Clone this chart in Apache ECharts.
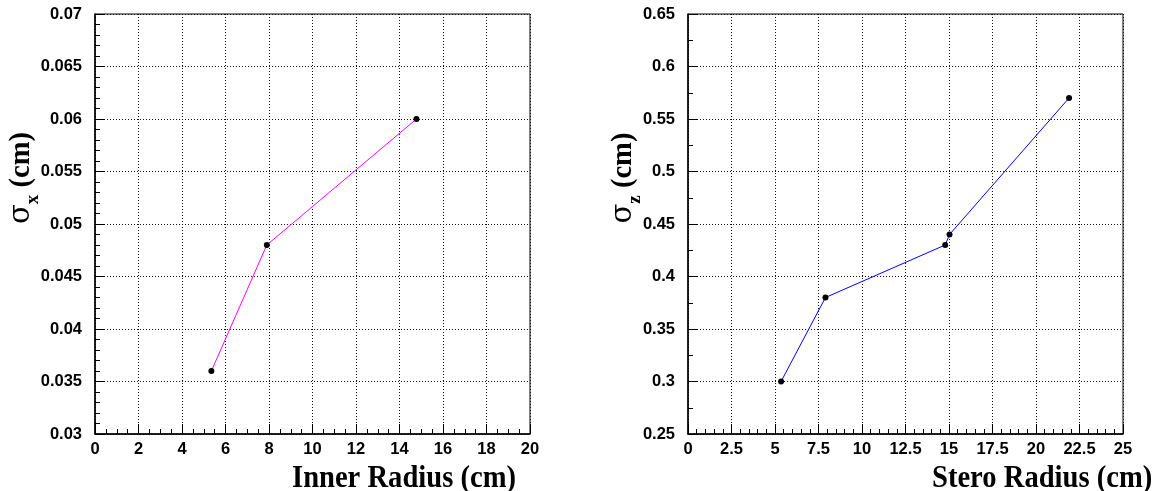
<!DOCTYPE html>
<html><head><meta charset="utf-8">
<script src="https://cdn.jsdelivr.net/npm/echarts@6/dist/echarts.min.js"></script>
<style>html,body{margin:0;padding:0;background:#fff}#c{width:1156px;height:491px}</style>
</head><body><div id="c"></div>
<script>
// ---- data ----
const innerRadius = [5.35, 7.9, 14.78];
const sigmaX = [0.036, 0.048, 0.060];
const steroRadius = [5.35, 7.9, 14.78, 15.03, 21.9];
const sigmaZ = [0.30, 0.38, 0.43, 0.44, 0.57];
const xTicksLeft = ['0','2','4','6','8','10','12','14','16','18','20'];
const yTicksLeft = ['0.03','0.035','0.04','0.045','0.05','0.055','0.06','0.065','0.07'];
const xTicksRight = ['0','2.5','5','7.5','10','12.5','15','17.5','20','22.5','25'];
const yTicksRight = ['0.25','0.3','0.35','0.4','0.45','0.5','0.55','0.6','0.65'];

const labelFont = {fontFamily:'"Liberation Sans", Arial, sans-serif', fontWeight:'bold', fontSize:16.5, color:'#000'};
function axis(gi, labels, min, interval, minorSplit, isX){
  return {
    type:'value', gridIndex:gi, min:min, max:+(min+interval*(labels.length-1)).toFixed(6), interval:interval,
    axisLine:{show:true, onZero:false, lineStyle:{color:'#000', width:1.5}},
    axisTick:{show:true, inside:true, length:10, lineStyle:{color:'#000', width:1}},
    minorTick:{show:true, splitNumber:minorSplit, length:5, lineStyle:{color:'#000', width:1}},
    splitLine:{show:true, lineStyle:{color:'#111', width:1, type:[1,2]}},
    axisLabel:Object.assign({showMinLabel:true, showMaxLabel:true, margin: isX?7:13,
      formatter:function(v){ return labels[Math.round((v-min)/interval)]; }}, labelFont)
  };
}
const titleFont = '"Liberation Serif", "Times New Roman", serif';
function xTitle(text, x){
  return {type:'text', x:x, y:479, scaleY:1.1, style:{text:text, font:'bold 28.6px '+titleFont, fill:'#000', textAlign:'left', textVerticalAlign:'middle'}};
}
function yTitle(sub, x){
  return {type:'text', x:x, y:178, rotation:Math.PI/2,
    style:{text:'{s|σ}{b|'+sub+'}{n| (cm)}', fill:'#000', align:'center', verticalAlign:'middle',
      rich:{
        s:{fontFamily:'"DejaVu Serif", serif', fontSize:29, fontWeight:'normal', lineHeight:34, verticalAlign:'top'},
        b:{fontFamily:titleFont, fontSize:19, fontWeight:'bold', lineHeight:19, padding:[17,0,0,0], verticalAlign:'top'},
        n:{fontFamily:titleFont, fontSize:28.6, fontWeight:'bold', lineHeight:34, verticalAlign:'top'}
      }}};
}
const chart = echarts.init(document.getElementById('c'), null, {renderer:'canvas'});
chart.setOption({
  animation:false,
  backgroundColor:'#fff',
  grid:[
    {left:95, top:14, width:435, height:420, show:true, borderColor:'#000', borderWidth:1, backgroundColor:'transparent'},
    {left:688, top:14, width:435, height:420, show:true, borderColor:'#000', borderWidth:1, backgroundColor:'transparent'}
  ],
  xAxis:[ axis(0, xTicksLeft, 0, 2, 4, true), axis(1, xTicksRight, 0, 2.5, 5, true) ],
  yAxis:[ axis(0, yTicksLeft, 0.03, 0.005, 5, false), axis(1, yTicksRight, 0.25, 0.05, 2, false) ],
  series:[
    {type:'line', xAxisIndex:0, yAxisIndex:0, data:innerRadius.map((x,i)=>[x, sigmaX[i]]),
     symbol:'circle', symbolSize:6, lineStyle:{color:'#ff00ff', width:1}, itemStyle:{color:'#000'}},
    {type:'line', xAxisIndex:1, yAxisIndex:1, data:steroRadius.map((x,i)=>[x, sigmaZ[i]]),
     symbol:'circle', symbolSize:6, lineStyle:{color:'#0000ff', width:1}, itemStyle:{color:'#000'}}
  ],
  graphic:[
    xTitle('Inner Radius (cm)', 292),
    xTitle('Stero Radius (cm)', 932),
    yTitle('x', 24),
    yTitle('z', 626)
  ]
});
</script></body></html>
